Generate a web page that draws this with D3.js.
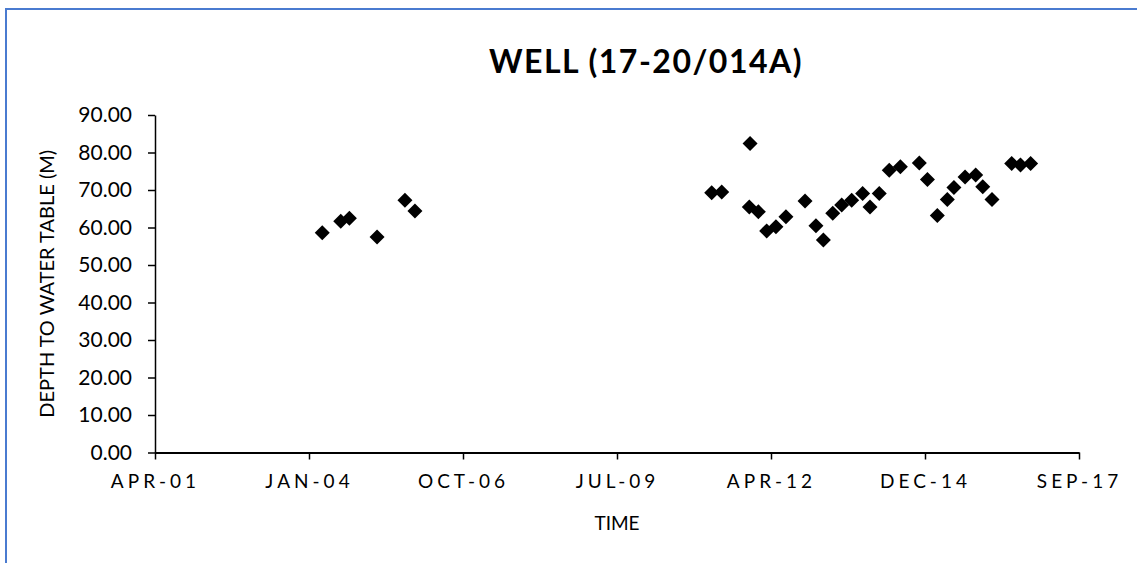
<!DOCTYPE html>
<html>
<head>
<meta charset="utf-8">
<script src="https://cdn.jsdelivr.net/npm/d3@7/dist/d3.min.js"></script>
<style>
  html, body { margin: 0; padding: 0; background: #ffffff; }
  svg { display: block; }
  text { font-family: Lato, "Open Sans", "Liberation Sans", sans-serif; fill: #000; }
</style>
</head>
<body>
<svg id="chart" width="1137" height="563"></svg>
<script>
// Depth to water table measurements for well 17-20/014A
const sampleDates = [
  "2004-04-09", "2004-08-07", "2004-10-02", "2005-03-31", "2005-09-28", "2005-12-02",
  "2011-03-13", "2011-05-17", "2011-11-17", "2011-11-12", "2012-01-10", "2012-03-04",
  "2012-05-03", "2012-07-07", "2012-11-08", "2013-01-18", "2013-03-07", "2013-05-07",
  "2013-07-04", "2013-09-07", "2013-11-17", "2014-01-04", "2014-03-05", "2014-05-09",
  "2014-07-20", "2014-11-20", "2015-01-12", "2015-03-17", "2015-05-21", "2015-07-03",
  "2015-09-13", "2015-11-21", "2016-01-06", "2016-03-06", "2016-07-12", "2016-09-07",
  "2016-11-12"
];
const depthValues = [
  58.6, 61.7, 62.5, 57.5, 67.3, 64.4,
  69.3, 69.5, 82.4, 65.5, 64.2, 59.1,
  60.2, 62.9, 67.1, 60.5, 56.7, 63.8,
  66.0, 67.3, 69.1, 65.5, 69.1, 75.3,
  76.2, 77.2, 72.8, 63.2, 67.5, 70.7,
  73.5, 74.0, 70.9, 67.5, 77.1, 76.7,
  77.1
];
// Axis ticks every 1000 days
const xTickDates = ["2001-04-19", "2004-01-14", "2006-10-10", "2009-07-06", "2012-04-01", "2014-12-27", "2017-09-22"];
const yTickValues = [0, 10, 20, 30, 40, 50, 60, 70, 80, 90];

const chartTitle = "WELL (17-20/014A)";
const xAxisTitle = "TIME";
const yAxisTitle = "DEPTH TO WATER TABLE (M)";

const parse = d3.utcParse("%Y-%m-%d");
const points = sampleDates.map((d, i) => ({ date: parse(d), value: depthValues[i] }));
const xTicks = xTickDates.map(parse);

const svg = d3.select("#chart");

// Chart frame
svg.append("rect")
  .attr("x", 6).attr("y", 9)
  .attr("width", 1200).attr("height", 620)
  .attr("fill", "#ffffff")
  .attr("stroke", "#4a7bd0")
  .attr("stroke-width", 2);

const plot = { left: 155, right: 1079, top: 115, bottom: 452.5 };

const x = d3.scaleUtc()
  .domain([xTicks[0], xTicks[xTicks.length - 1]])
  .range([plot.left, plot.right]);
const y = d3.scaleLinear()
  .domain([0, 90])
  .range([plot.bottom, plot.top]);

// Y axis
const yAxis = svg.append("g")
  .attr("transform", `translate(${plot.left},0)`)
  .call(d3.axisLeft(y).tickValues(yTickValues).tickFormat(d3.format(".2f")).tickSize(7).tickPadding(16).tickSizeOuter(0));
yAxis.select(".domain").attr("stroke", "#000").attr("stroke-width", 1.5);
yAxis.selectAll(".tick line").attr("stroke", "#000").attr("stroke-width", 1.5);
yAxis.selectAll(".tick text")
  .attr("font-size", 21)
  .attr("font-family", "Lato, 'Open Sans', sans-serif")
  .attr("fill", "#000");

// X axis
const fmt = d3.utcFormat("%b-%y");
const xAxis = svg.append("g")
  .attr("transform", `translate(0,${plot.bottom})`)
  .call(d3.axisBottom(x).tickValues(xTicks).tickFormat(d => fmt(d).toUpperCase()).tickSize(7).tickPadding(15).tickSizeOuter(0));
xAxis.select(".domain").attr("stroke", "#000").attr("stroke-width", 2.2);
xAxis.selectAll(".tick line").attr("stroke", "#000").attr("stroke-width", 1.5);
xAxis.selectAll(".tick text")
  .attr("font-size", 19)
  .attr("letter-spacing", 4)
  .attr("font-family", "Lato, 'Open Sans', sans-serif")
  .attr("fill", "#000");

// Diamond markers
const diamond = (cx, cy, r) => `M${cx},${cy - r}L${cx + r},${cy}L${cx},${cy + r}L${cx - r},${cy}Z`;
svg.append("g")
  .selectAll("path")
  .data(points)
  .join("path")
  .attr("d", d => diamond(x(d.date), y(d.value), 7.5))
  .attr("fill", "#000");

// Titles
svg.append("text")
  .attr("x", 646).attr("y", 73)
  .attr("text-anchor", "middle")
  .attr("font-size", 32)
  .attr("font-weight", "bold")
  .attr("letter-spacing", 1.5)
  .text(chartTitle);

svg.append("text")
  .attr("x", 617).attr("y", 530)
  .attr("text-anchor", "middle")
  .attr("font-size", 19)
  .text(xAxisTitle);

svg.append("text")
  .attr("transform", `translate(54,${(plot.top + plot.bottom) / 2}) rotate(-90)`)
  .attr("text-anchor", "middle")
  .attr("font-size", 20)
  .text(yAxisTitle);
</script>
</body>
</html>
